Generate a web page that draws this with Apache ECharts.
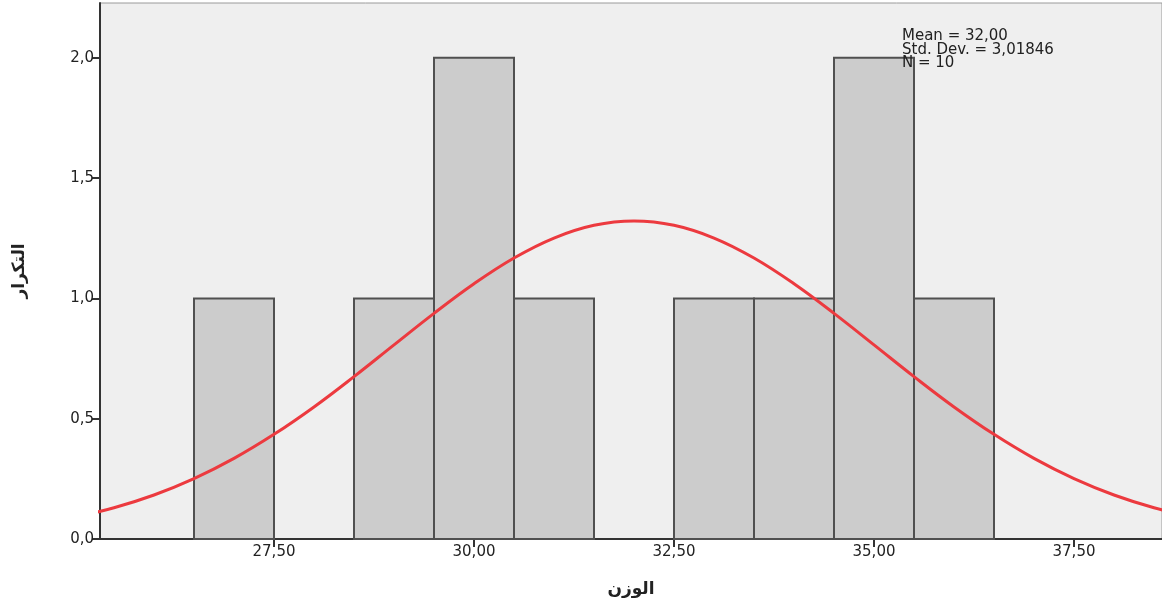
<!DOCTYPE html>
<html>
<head>
<meta charset="utf-8">
<script src="https://cdn.jsdelivr.net/npm/echarts@6/dist/echarts.min.js"></script>
<style>html,body{margin:0;padding:0;background:#fff}#c{width:1162px;height:603px}</style>
</head>
<body>
<div id="c"></div>
<script>
// Histogram bins (bin centres, width 1) and counts
const binCenters = [27, 29, 30, 31, 33, 34, 35, 36];
const binCounts  = [1, 1, 2, 1, 1, 1, 2, 1];
// Fitted normal curve
const curveX = [25, 25.5, 26, 26.5, 27, 27.5, 28, 28.5, 29, 29.5, 30, 30.5, 31, 31.5, 32,
                32.5, 33, 33.5, 34, 34.5, 35, 35.5, 36, 36.5, 37, 37.5, 38, 38.5, 39];
const curveY = [0.090, 0.130, 0.183, 0.251, 0.335, 0.435, 0.549, 0.675, 0.807, 0.938, 1.061, 1.168, 1.251, 1.304, 1.322,
                1.304, 1.251, 1.168, 1.061, 0.938, 0.807, 0.675, 0.549, 0.435, 0.335, 0.251, 0.183, 0.130, 0.090];
const xTicks = [27.5, 30, 32.5, 35, 37.5];
const yTicks = [0, 0.5, 1, 1.5, 2];
const statsLines = ['Mean = 32,00', 'Std. Dev. = 3,01846', 'N = 10'];
const xName = 'الوزن';
const yName = 'التكرار';

const fmt = (v, d) => v.toFixed(d).replace('.', ',');
const chart = echarts.init(document.getElementById('c'), null, {renderer: 'canvas'});
const font = 'DejaVu Sans';
chart.setOption({
  animation: false,
  backgroundColor: '#ffffff',
  grid: {left: 100, right: 0, top: 3, bottom: 62, show: true, backgroundColor: '#efefef', borderColor: '#9a9a9a', borderWidth: 1},
  xAxis: {
    type: 'value', min: 25.325, max: 38.6,
    name: xName, nameLocation: 'middle', nameGap: 42,
    nameTextStyle: {fontFamily: font, fontSize: 17, fontWeight: 'bold', color: '#222'},
    axisLine: {show: true, lineStyle: {color: '#333', width: 2}},
    axisTick: {show: true, customValues: xTicks, length: 8, lineStyle: {color: '#333', width: 2}},
    axisLabel: {customValues: xTicks, formatter: v => fmt(v, 2), fontFamily: font, fontSize: 15, color: '#222', margin: 6},
    splitLine: {show: false}
  },
  yAxis: {
    type: 'value', min: 0, max: 2.228,
    name: yName, nameLocation: 'middle', nameGap: 72, nameRotate: 90,
    nameTextStyle: {fontFamily: font, fontSize: 17, fontWeight: 'bold', color: '#222'},
    axisLine: {show: true, lineStyle: {color: '#333', width: 2}},
    axisTick: {show: true, customValues: yTicks, length: 8, lineStyle: {color: '#333', width: 2}},
    axisLabel: {customValues: yTicks, formatter: v => fmt(v, 1), fontFamily: font, fontSize: 15, color: '#222', margin: 6},
    splitLine: {show: false}
  },
  series: [
    {
      type: 'custom',
      data: binCenters.map((c, i) => [c, binCounts[i]]),
      renderItem: (params, api) => {
        const c = api.value(0), n = api.value(1);
        const p0 = api.coord([c - 0.5, n]);
        const p1 = api.coord([c + 0.5, 0]);
        return {
          type: 'rect',
          shape: {x: p0[0], y: p0[1], width: p1[0] - p0[0], height: p1[1] - p0[1]},
          style: {fill: '#cccccc', stroke: '#505050', lineWidth: 2}
        };
      },
      z: 2
    },
    {
      type: 'line', smooth: 0.4, showSymbol: false, clip: true,
      data: curveX.map((x, i) => [x, curveY[i]]),
      lineStyle: {color: '#ec3a3f', width: 3},
      z: 3
    }
  ],
  graphic: [{
    type: 'text', left: 902, top: 29, z: 10,
    style: {text: statsLines.join('\n'), font: '15px "DejaVu Sans"', fill: '#222', lineHeight: 13.5}
  }]
});
</script>
</body>
</html>
